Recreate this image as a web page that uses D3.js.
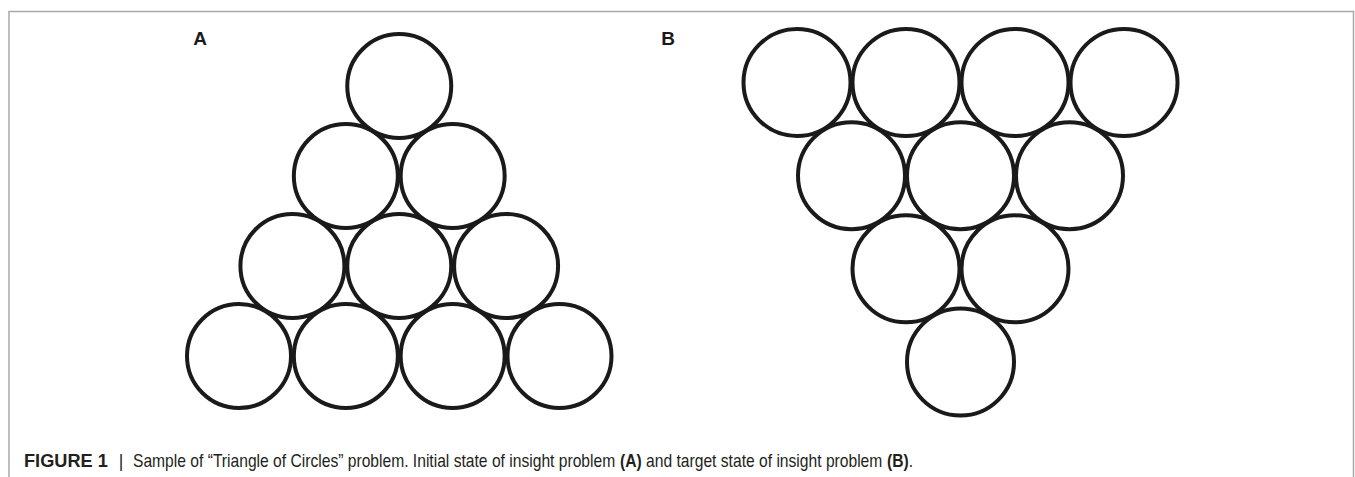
<!DOCTYPE html>
<html>
<head>
<meta charset="utf-8">
<script src="https://cdn.jsdelivr.net/npm/d3@7/dist/d3.min.js"></script>
<style>
  html, body { margin: 0; padding: 0; background: #fff; }
  svg { display: block; }
</style>
</head>
<body>
<svg id="chart" width="1355" height="477"></svg>
<script>
// Data: lattice positions of circles (column offset, row index)
const panels = ["A", "B"];
const circlesA_col = [0, -0.5, 0.5, -1, 0, 1, -1.5, -0.5, 0.5, 1.5];
const circlesA_row = [0, 1, 1, 2, 2, 2, 3, 3, 3, 3];
const circlesB_col = [-1.5, -0.5, 0.5, 1.5, -1, 0, 1, -0.5, 0.5, 0];
const circlesB_row = [0, 0, 0, 0, 1, 1, 1, 2, 2, 3];
const captionLabel = "FIGURE 1";
const captionSep = "|";
const captionParts = [
  { t: "Sample of \u201cTriangle of Circles\u201d problem. Initial state of insight problem\u00a0", b: false },
  { t: "(A)", b: true },
  { t: "\u00a0and target state of insight problem\u00a0", b: false },
  { t: "(B)", b: true },
  { t: ".", b: false }
];

const svg = d3.select("#chart");

// frame
svg.append("path")
  .attr("d", "M9,477 L9,11.5 L1353.5,11.5 L1353.5,477")
  .attr("fill", "none").attr("stroke", "#a9a9a9").attr("stroke-width", 1.5);

const xA = d3.scaleLinear().domain([-1.5, 1.5]).range([239, 559.5]);
const yA = d3.scaleLinear().domain([0, 3]).range([86, 356]);
const xB = d3.scaleLinear().domain([-1.5, 1.5]).range([797, 1124]);
const yB = d3.scaleLinear().domain([0, 3]).range([82.5, 362]);

function drawPanel(cols, rows, xs, ys, r) {
  const data = cols.map((c, i) => ({ c: c, r: rows[i] }));
  svg.append("g").selectAll("circle").data(data).join("circle")
    .attr("cx", d => xs(d.c)).attr("cy", d => ys(d.r)).attr("r", r)
    .attr("fill", "none").attr("stroke", "#1a1a1a").attr("stroke-width", 4);
}
drawPanel(circlesA_col, circlesA_row, xA, yA, 52);
drawPanel(circlesB_col, circlesB_row, xB, yB, 53.5);

// panel labels
svg.selectAll("text.plabel").data(panels).join("text")
  .attr("class", "plabel")
  .attr("x", (d, i) => i === 0 ? 200 : 668)
  .attr("y", 45)
  .attr("text-anchor", "middle")
  .attr("font-family", "'Liberation Sans', Arial, sans-serif")
  .attr("font-weight", "bold")
  .attr("font-size", 19)
  .attr("fill", "#1a1a1a")
  .text(d => d);

const FS = 17.5, FF = "'Liberation Sans', Arial, sans-serif", COL = "#231f20";

// caption label "FIGURE 1", squeezed to reference width
const g1 = svg.append("g");
const t1 = g1.append("text").attr("x", 0).attr("y", 0)
  .attr("font-family", FF).attr("font-size", FS).attr("font-weight", "bold")
  .attr("fill", COL).text(captionLabel);
const w1 = t1.node().getComputedTextLength();
g1.attr("transform", `translate(24,467) scale(${84 / w1},1)`);

// separator
svg.append("text").attr("x", 121).attr("y", 467).attr("text-anchor", "middle")
  .attr("font-family", FF).attr("font-size", FS).attr("fill", COL).text(captionSep);

// caption body
const capG = svg.append("g");
let cx = 0;
captionParts.forEach(p => {
  const t = capG.append("text")
    .attr("x", cx).attr("y", 0)
    .attr("font-family", FF)
    .attr("font-size", FS)
    .attr("font-weight", p.b ? "bold" : "normal")
    .attr("fill", COL)
    .text(p.t);
  cx += t.node().getComputedTextLength();
});
capG.attr("transform", `translate(133,467) scale(${(913 - 133) / cx},1)`);
</script>
</body>
</html>
